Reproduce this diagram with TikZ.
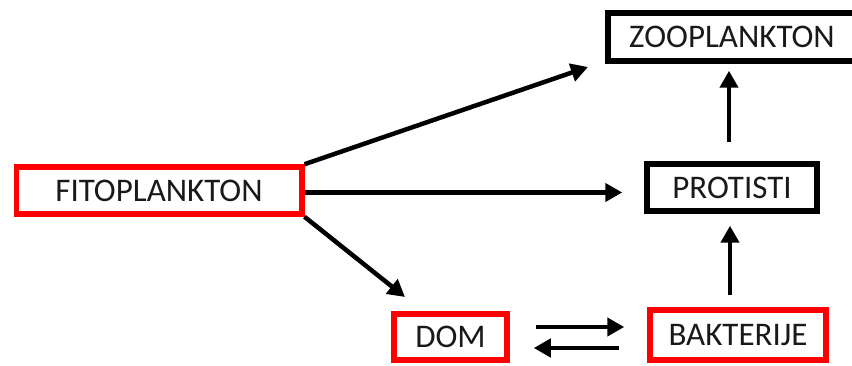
\documentclass[tikz,border=0pt]{standalone}
\usepackage{fontspec}
\setmainfont{Carlito}
\usetikzlibrary{arrows.meta,calc}
\tikzset{
  box/.style={draw=#1,line width=5.5pt,inner sep=0pt,font=\fontsize{33}{40}\selectfont,text=black!90},
  arr/.style={line width=4.5pt,-{Triangle[length=17pt,width=18pt]}}
}
\begin{document}
\begin{tikzpicture}[x=1pt,y=-1pt]
\useasboundingbox (0,0) rectangle (852,366);
\node[box=red,minimum width=285.5pt,minimum height=47pt] (fito) at (159,190.5) {FITOPLANKTON};
\node[box=black,minimum width=248pt,minimum height=48pt] (zoo) at (732,37) {ZOOPLANKTON};
\node[box=black,minimum width=170pt,minimum height=47pt] (prot) at (732,187.5) {PROTISTI};
\node[box=red,minimum width=113pt,minimum height=46pt] (dom) at (450.5,337) {DOM};
\node[box=red,minimum width=176pt,minimum height=50pt] (bak) at (738,335) {BAKTERIJE};
\coordinate (t1) at (588,67);
\coordinate (t3) at (405,297);
\draw[arr] (fito.north east) -- (t1);
\draw[arr,shorten >=22pt] ([yshift=-2pt]fito.east) -- ([yshift=-2pt]fito.east -| prot.west);
\draw[arr] (fito.south east) -- (t3);
\draw[arr,shorten <=19pt,shorten >=7pt] ([xshift=-3pt]prot.north) -- ([xshift=-3pt]zoo.south);
\draw[arr,shorten <=12pt,shorten >=12pt] ([xshift=-2pt]prot.south |- bak.north) -- ([xshift=-2pt]prot.south);
\draw[arr] ([xshift=26pt,yshift=10pt]dom.east) -- ([xshift=-23pt,yshift=8pt]bak.west);
\draw[arr] ([xshift=-28pt,yshift=-13pt]bak.west) -- ([xshift=24pt,yshift=-11pt]dom.east);
\end{tikzpicture}
\end{document}
